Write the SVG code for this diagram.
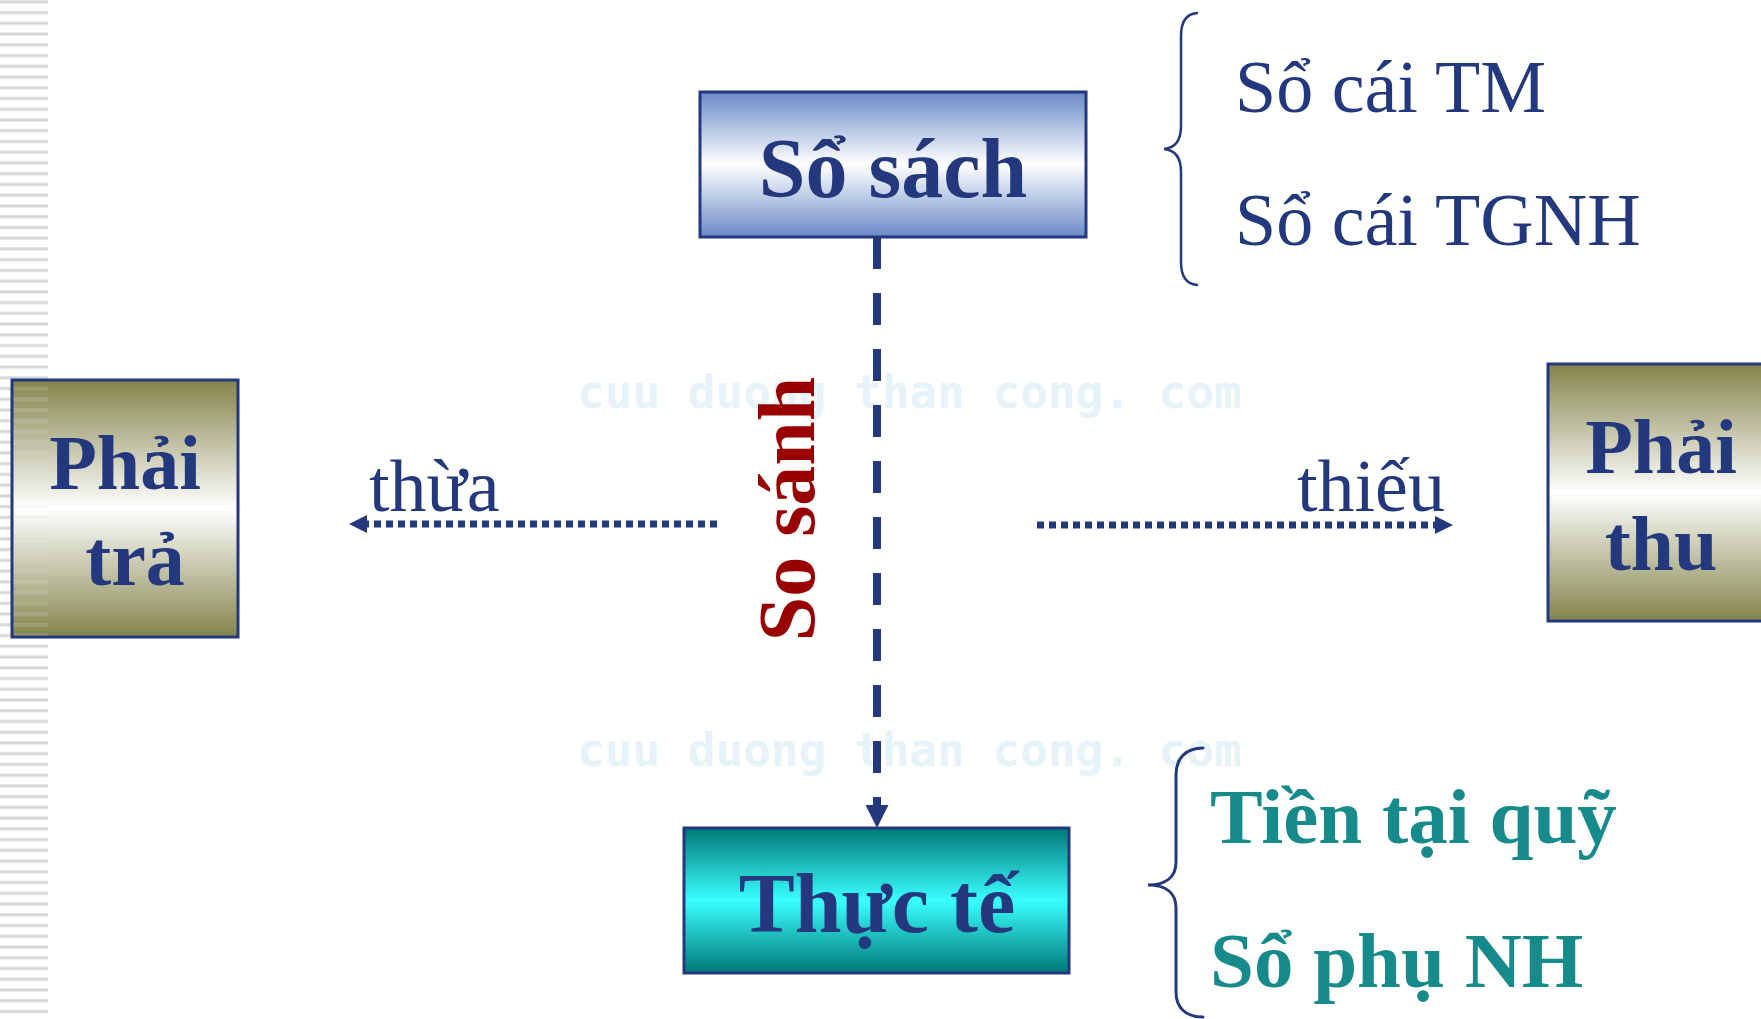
<svg xmlns="http://www.w3.org/2000/svg" width="1761" height="1019" viewBox="0 0 1761 1019">
  <defs>
    <style>
      .box { stroke: #24397d; stroke-width: 3; }
      .title { font-family: "Liberation Serif", "DejaVu Serif", serif; font-weight: bold; fill: #24397d; text-anchor: middle; }
      .plain { font-family: "Liberation Serif", "DejaVu Serif", serif; fill: #24397d; }
      .teal { font-family: "Liberation Serif", "DejaVu Serif", serif; font-weight: bold; fill: #178a8c; }
      .mark { font-family: "DejaVu Sans Mono", "Liberation Mono", monospace; font-size: 46px; font-weight: bold; fill: #e6f3f9; }
      .brace { fill: none; stroke: #24397d; stroke-width: 2.5; stroke-linecap: round; }
      .dash { fill: none; stroke: #24397d; stroke-width: 8; stroke-dasharray: 32 24; }
      .dots { fill: none; stroke: #24397d; stroke-width: 7; stroke-dasharray: 7 5; }
    </style>
    <linearGradient id="gBlue" x1="0" y1="0" x2="0" y2="1">
      <stop offset="0" stop-color="#6a8ac7"/>
      <stop offset="0.5" stop-color="#ffffff"/>
      <stop offset="1" stop-color="#6a8ac7"/>
    </linearGradient>
    <linearGradient id="gOlive" x1="0" y1="0" x2="0" y2="1">
      <stop offset="0" stop-color="#84844c"/>
      <stop offset="0.5" stop-color="#ffffff"/>
      <stop offset="1" stop-color="#84844c"/>
    </linearGradient>
    <linearGradient id="gTeal" x1="0" y1="0" x2="0" y2="1">
      <stop offset="0" stop-color="#007876"/>
      <stop offset="0.5" stop-color="#3affff"/>
      <stop offset="1" stop-color="#007876"/>
    </linearGradient>
    <pattern id="stripes" x="0" y="0" width="48" height="10.74" patternUnits="userSpaceOnUse">
      <rect x="0" y="0" width="48" height="1" fill="#e6e6e6"/>
      <rect x="0" y="1" width="48" height="2" fill="#d6d6d6"/>
      <rect x="0" y="3" width="48" height="1" fill="#ececec"/>
    </pattern>
    <marker id="headV" viewBox="0 0 23 23" markerWidth="23" markerHeight="23" refX="0" refY="11.5" orient="auto" markerUnits="userSpaceOnUse">
      <path d="M0,0 L23,11.5 L0,23 z" fill="#24397d"/>
    </marker>
    <marker id="headH" viewBox="0 0 18 18" markerWidth="18" markerHeight="18" refX="0" refY="9" orient="auto" markerUnits="userSpaceOnUse">
      <path d="M0,0 L18,9 L0,18 z" fill="#24397d"/>
    </marker>
  </defs>

  <rect x="0" y="0" width="1761" height="1019" fill="#ffffff"/>

  <!-- striped left margin -->
  <rect x="0" y="0" width="48" height="1019" fill="url(#stripes)"/>

  <!-- faint background watermark -->
  <g id="watermark">
    <text class="mark" x="577" y="408">cuu duong than cong. com</text>
    <text class="mark" x="577" y="766">cuu duong than cong. com</text>
  </g>

  <!-- connectors -->
  <g id="connectors">
    <path class="dash" d="M877,237 L877,805" marker-end="url(#headV)"/>
    <path class="dots" d="M717,524 L367,524" marker-end="url(#headH)"/>
    <path class="dots" d="M1037,525 L1435,525" marker-end="url(#headH)"/>
    <text class="title" transform="translate(814,509) rotate(-90)" x="0" y="0" font-size="80" style="fill:#990000">So sánh</text>
    <text class="plain" x="369" y="511" font-size="74">thừa</text>
    <text class="plain" x="1297" y="511" font-size="74">thiếu</text>
  </g>

  <!-- nodes -->
  <g id="so-sach">
    <rect class="box" x="700" y="92" width="386" height="145" fill="url(#gBlue)"/>
    <text class="title" x="893" y="197" font-size="84">Sổ sách</text>
  </g>

  <g id="thuc-te">
    <rect class="box" x="684" y="828" width="385" height="145" fill="url(#gTeal)"/>
    <text class="title" x="877" y="932" font-size="84">Thực tế</text>
  </g>

  <g id="phai-tra">
    <rect class="box" x="12" y="380" width="226" height="257" fill="url(#gOlive)"/>
    <rect x="13.5" y="381.5" width="34.5" height="254" fill="url(#stripes)" opacity="0.18"/>
    <text class="title" x="125" y="489" font-size="78">Phải</text>
    <text class="title" x="135" y="585" font-size="78">trả</text>
  </g>

  <g id="phai-thu">
    <rect class="box" x="1548" y="364" width="226" height="257" fill="url(#gOlive)"/>
    <text class="title" x="1661" y="473" font-size="78">Phải</text>
    <text class="title" x="1661" y="570" font-size="78">thu</text>
  </g>

  <!-- ledgers grouped under the books -->
  <g id="so-sach-list">
    <path class="brace" d="M1197,13 C1186,14 1181,22 1181,36 L1181,126 C1181,140 1175,148 1164,149 C1175,150 1181,158 1181,172 L1181,262 C1181,276 1186,284 1197,285"/>
    <text class="plain" x="1235" y="112" font-size="74">Sổ cái TM</text>
    <text class="plain" x="1235" y="245" font-size="74">Sổ cái TGNH</text>
  </g>

  <!-- actual balances grouped under the count -->
  <g id="thuc-te-list">
    <path class="brace" style="stroke-width:3" d="M1203,748 C1186,748 1176,758 1176,775 L1176,862 C1176,877 1166,885 1148,885 C1166,885 1176,893 1176,908 L1176,992 C1176,1008 1186,1017 1203,1017"/>
    <text class="teal" x="1210" y="843" font-size="79">Tiền tại quỹ</text>
    <text class="teal" x="1210" y="987" font-size="79">Sổ phụ NH</text>
  </g>
</svg>
